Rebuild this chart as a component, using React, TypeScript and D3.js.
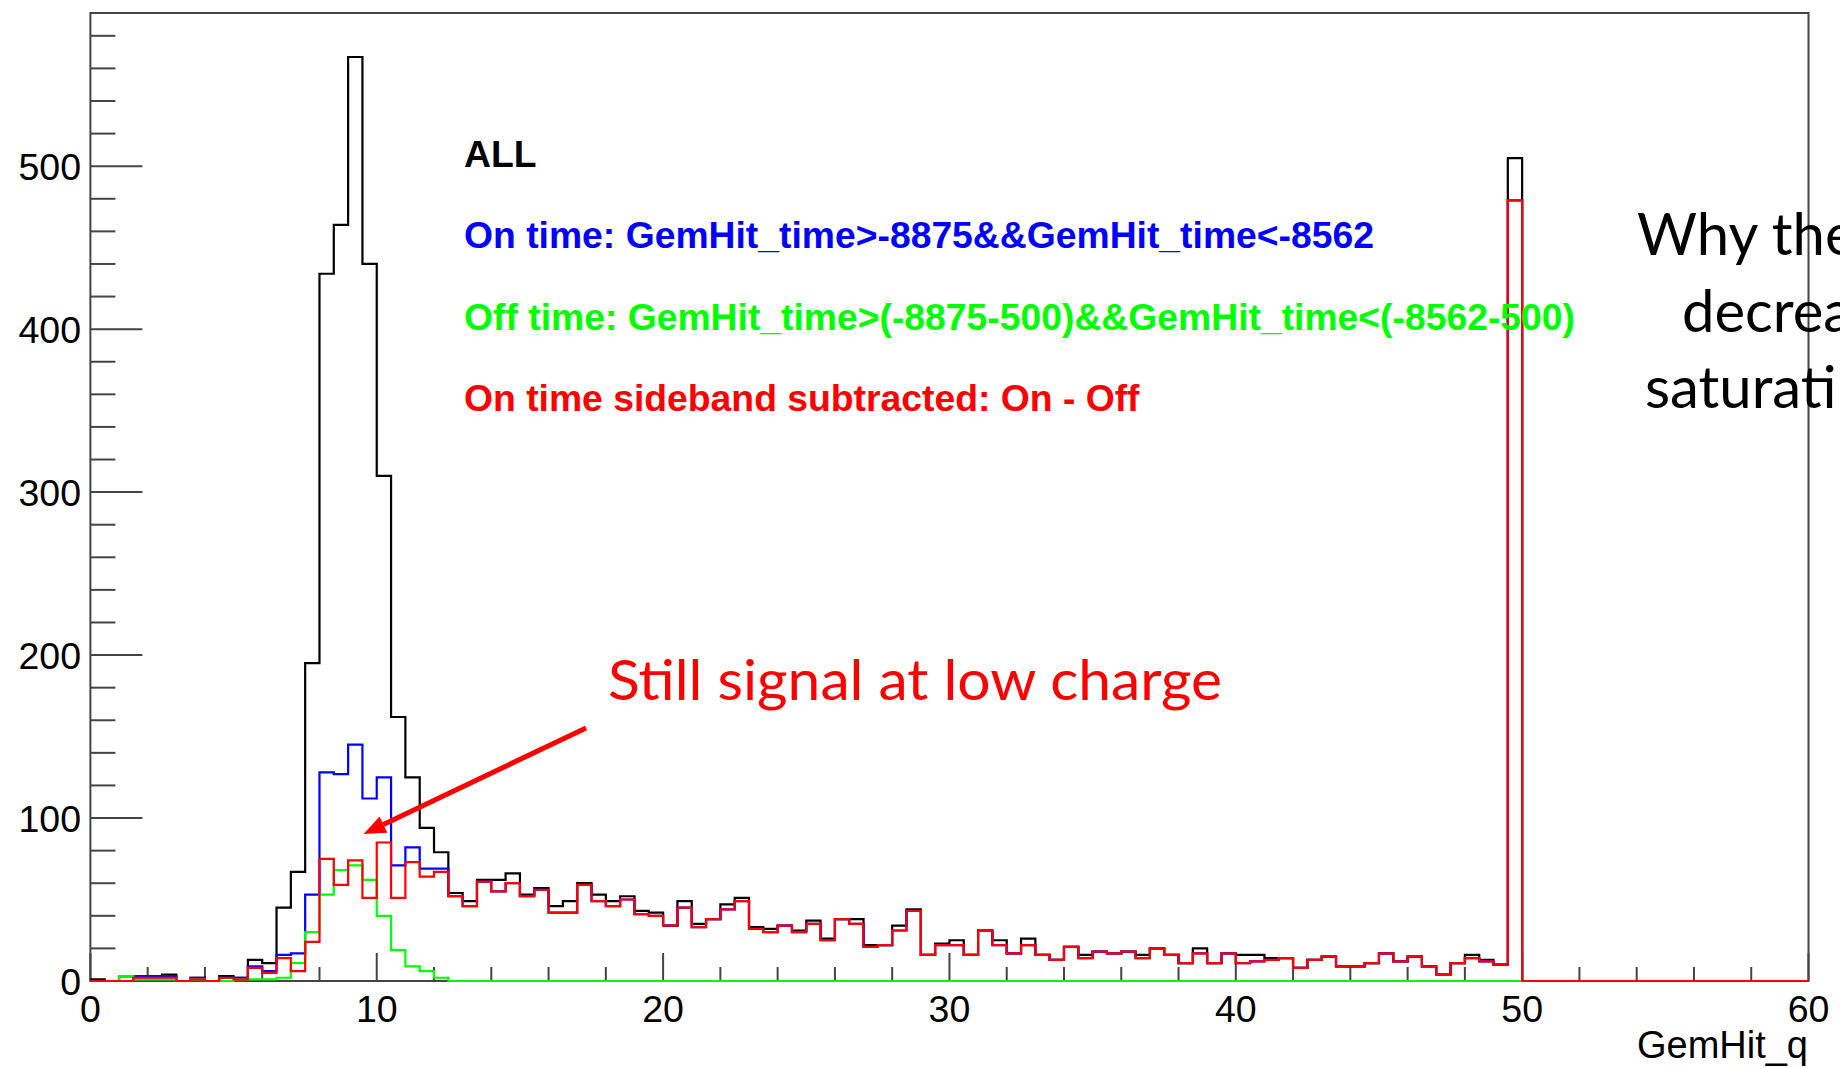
import React from "react";
import * as d3 from "d3";

// ---------- data (counts per 0.5-wide bin of GemHit_q, starting at 0) ----------
const BIN_WIDTH = 0.5;
const X_DOMAIN: [number, number] = [0, 60];
const Y_DOMAIN: [number, number] = [0, 594];

const X_MAJOR_TICKS = [0, 10, 20, 30, 40, 50, 60];
const Y_MAJOR_TICKS = [0, 100, 200, 300, 400, 500];
const X_MINOR_STEP = 2;
const Y_MINOR_STEP = 20;

// ALL (black), bins 0 .. 49.5
const ALL_COUNTS = [
  1, 0, 3, 2, 2, 4, 0, 2, 0, 3, 2, 13, 11, 45, 67, 195, 434, 464, 567, 440,
  310, 162, 125, 94, 79,
  54, 49, 62, 62, 66, 53, 57, 46, 49, 60, 53, 49, 52, 43, 42, 34, 49, 35, 38, 47,
  51, 33, 32, 34, 31, 37, 26, 38, 38, 22, 22, 34, 44, 16, 23, 25, 16, 31, 25, 17,
  26, 16, 13, 21, 16, 18, 17, 18, 16, 20, 16, 11, 20, 11, 17, 16, 16, 14, 14, 8,
  13, 15, 9, 9, 11, 17, 12, 15, 9, 4, 11, 16, 13, 10,
  505,
];

// On time (blue), low-charge part (bins 0 .. 12)
const ON_TIME_LOW = [
  0, 0, 3, 3, 3, 3, 0, 2, 0, 2, 2, 9, 6, 16, 17, 53, 128, 127, 145, 112,
  125, 71, 82, 69, 69,
];
// On time sideband subtracted (red), low-charge part (bins 0 .. 12)
const SUBTRACTED_LOW = [
  0, 0, 0, 2, 2, 2, 0, 1, 0, 2, 1, 8, 5, 14, 6, 24, 75, 59, 74, 51,
  85, 51, 73, 64, 67,
];
// Above 12.5 the off-time sample is empty, so On time == On - Off there
const ON_TIME_TAIL = [
  52, 46, 61, 55, 60, 52, 56, 42, 42, 59, 49, 46, 50, 41, 40, 34, 45, 33, 38, 44,
  49, 32, 30, 34, 30, 35, 25, 38, 35, 21, 22, 31, 43, 16, 22, 22, 16, 31, 22, 17,
  22, 16, 13, 21, 14, 18, 17, 18, 14, 20, 16, 11, 17, 11, 17, 11, 12, 13, 14, 8,
  13, 15, 9, 9, 11, 17, 12, 15, 9, 4, 11, 14, 12, 10,
];
const ON_TIME_SATURATION_BIN = 479;

const ON_TIME = [...ON_TIME_LOW, ...ON_TIME_TAIL, ON_TIME_SATURATION_BIN];
const SUBTRACTED = [...SUBTRACTED_LOW, ...ON_TIME_TAIL, ON_TIME_SATURATION_BIN];

// Off time (green), bins 0 .. 12 (empty afterwards)
const OFF_TIME = [
  0, 0, 3, 1, 1, 1, 0, 1, 0, 0, 1, 1, 1, 2, 11, 30, 53, 68, 71, 62,
  40, 19, 9, 6, 2,
];

const SERIES = [
  { name: "ALL", values: ALL_COUNTS, color: "#000000" },
  { name: "On time", values: ON_TIME, color: "#0000ff" },
  { name: "Off time", values: OFF_TIME, color: "#00ff00" },
  { name: "On - Off", values: SUBTRACTED, color: "#ff0000" },
];

const LEGEND_LINES = [
  { text: "ALL", color: "#000000" },
  { text: "On time: GemHit_time>-8875&&GemHit_time<-8562", color: "#0000ff" },
  { text: "Off time: GemHit_time>(-8875-500)&&GemHit_time<(-8562-500)", color: "#00ff00" },
  { text: "On time sideband subtracted: On - Off", color: "#ff0000" },
];

const X_TITLE = "GemHit_q";
const ANNOTATION = "Still signal at low charge";
const SIDE_NOTE = ["Why the", "decrea", "saturati"];
// arrow in data coordinates: from (tail) to (tip)
const ARROW_TAIL: [number, number] = [17.31, 155.3];
const ARROW_TIP: [number, number] = [9.54, 90.2];

// ---------- layout ----------
const W = 1840;
const H = 1068;
const FRAME = { left: 90.4, right: 1808.5, top: 13, bottom: 981 };
const ROOT_FONT = "'Liberation Sans', Arial, Helvetica, sans-serif";
const SLIDE_FONT = "Lato, 'Open Sans', sans-serif";

export default function App() {
  const x = d3.scaleLinear().domain(X_DOMAIN).range([FRAME.left, FRAME.right]);
  const y = d3.scaleLinear().domain(Y_DOMAIN).range([FRAME.bottom, FRAME.top]);

  const line = d3
    .line<[number, number]>()
    .x((d) => x(d[0]))
    .y((d) => y(d[1]))
    .curve(d3.curveStepAfter);

  const stepPath = (values: number[]) => {
    const pts: [number, number][] = values.map((v, i) => [i * BIN_WIDTH, v]);
    pts.push([values.length * BIN_WIDTH, 0]);
    pts.push([X_DOMAIN[1], 0]);
    return line(pts) || "";
  };

  const xMinor = d3.range(X_DOMAIN[0], X_DOMAIN[1] + 0.001, X_MINOR_STEP).filter((v) => v % 10 !== 0);
  const yMinor = d3.range(0, Y_DOMAIN[1], Y_MINOR_STEP).filter((v) => v % 100 !== 0);

  const axisColor = "#444";
  const tickFs = 37.5;

  // arrow geometry
  const tx = x(ARROW_TAIL[0]);
  const ty = y(ARROW_TAIL[1]);
  const hx = x(ARROW_TIP[0]);
  const hy = y(ARROW_TIP[1]);
  const len = Math.hypot(hx - tx, hy - ty);
  const ux = (hx - tx) / len;
  const uy = (hy - ty) / len;
  const headLen = 22;
  const headHalf = 9;
  const bx = hx - ux * headLen;
  const by = hy - uy * headLen;
  const headPts = [
    [hx, hy],
    [bx - uy * headHalf, by + ux * headHalf],
    [bx + uy * headHalf, by - ux * headHalf],
  ]
    .map((p) => p.join(","))
    .join(" ");

  return (
    <svg
      width={W}
      height={H}
      viewBox={`0 0 ${W} ${H}`}
      style={{ position: "absolute", left: 0, top: 0, background: "#fff" }}
    >
      <rect x={0} y={0} width={W} height={H} fill="#fff" />

      {/* frame */}
      <rect
        x={FRAME.left}
        y={FRAME.top}
        width={FRAME.right - FRAME.left}
        height={FRAME.bottom - FRAME.top}
        fill="none"
        stroke={axisColor}
        strokeWidth={2}
      />

      {/* y axis ticks */}
      {Y_MAJOR_TICKS.map((v) => (
        <g key={`ym${v}`}>
          <line x1={FRAME.left} x2={FRAME.left + 52} y1={y(v)} y2={y(v)} stroke={axisColor} strokeWidth={2} />
          <text
            x={81}
            y={y(v) + tickFs * 0.36}
            textAnchor="end"
            fontFamily={ROOT_FONT}
            fontSize={tickFs}
            fill="#000"
          >
            {v}
          </text>
        </g>
      ))}
      {yMinor.map((v) => (
        <line key={`yn${v}`} x1={FRAME.left} x2={FRAME.left + 25} y1={y(v)} y2={y(v)} stroke={axisColor} strokeWidth={2} />
      ))}

      {/* x axis ticks */}
      {X_MAJOR_TICKS.map((v) => (
        <g key={`xm${v}`}>
          <line x1={x(v)} x2={x(v)} y1={FRAME.bottom} y2={FRAME.bottom - 28} stroke={axisColor} strokeWidth={2} />
          <text
            x={x(v)}
            y={1022}
            textAnchor="middle"
            fontFamily={ROOT_FONT}
            fontSize={tickFs}
            fill="#000"
          >
            {v}
          </text>
        </g>
      ))}
      {xMinor.map((v) => (
        <line key={`xn${v}`} x1={x(v)} x2={x(v)} y1={FRAME.bottom} y2={FRAME.bottom - 14} stroke={axisColor} strokeWidth={2} />
      ))}

      <text x={1808} y={1058} textAnchor="end" fontFamily={ROOT_FONT} fontSize={38} fill="#000">
        {X_TITLE}
      </text>

      {/* histograms */}
      {SERIES.map((s) => (
        <path key={s.name} d={stepPath(s.values)} fill="none" stroke={s.color} strokeWidth={2.2} strokeLinejoin="miter" />
      ))}

      {/* legend texts */}
      {LEGEND_LINES.map((l, i) => (
        <text
          key={l.text}
          x={464}
          y={167.3 + i * 81.1}
          fontFamily={ROOT_FONT}
          fontWeight="bold"
          fontSize={37.3}
          fill={l.color}
        >
          {l.text}
        </text>
      ))}

      {/* annotation */}
      <text
        x={608}
        y={700}
        fontFamily={SLIDE_FONT}
        fontSize={56}
        fill="#ff0000"
        textLength={614}
        lengthAdjust="spacingAndGlyphs"
      >
        {ANNOTATION}
      </text>
      <line x1={tx} y1={ty} x2={bx} y2={by} stroke="#ff0000" strokeWidth={5} />
      <polygon points={headPts} fill="#ff0000" />

      {/* side note (cut at slide edge, as in the original) */}
      <text x={1637} y={255} fontFamily={SLIDE_FONT} fontSize={58} fill="#000">
        {SIDE_NOTE[0]}
      </text>
      <text x={1682} y={332} fontFamily={SLIDE_FONT} fontSize={58} fill="#000">
        {SIDE_NOTE[1]}
      </text>
      <text x={1645} y={408} fontFamily={SLIDE_FONT} fontSize={58} fill="#000">
        {SIDE_NOTE[2]}
      </text>
    </svg>
  );
}
